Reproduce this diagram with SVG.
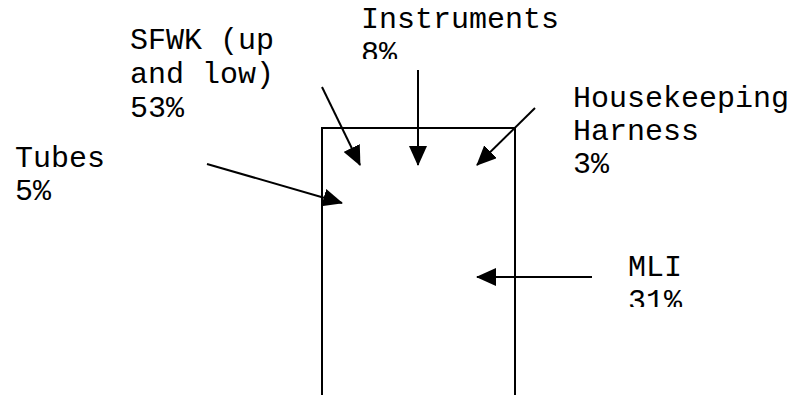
<svg xmlns="http://www.w3.org/2000/svg" width="804" height="395" viewBox="0 0 804 395">
  <style>
    .lbl { font-family: "Liberation Mono", "Courier New", monospace; font-size: 30px; fill: #000; }
    .ln { stroke: #000; stroke-width: 2; fill: none; }
    .arr { stroke: #000; stroke-width: 2; fill: none; marker-end: url(#ah); }
  </style>
  <defs>
    <marker id="ah" markerUnits="userSpaceOnUse" markerWidth="20" markerHeight="18" refX="19" refY="9" orient="auto">
      <path d="M0,0 L20,9 L0,18 Z" fill="#000"/>
    </marker>
    <clipPath id="clipInstr"><rect x="340" y="0" width="260" height="59"/></clipPath>
    <clipPath id="clipMli"><rect x="600" y="240" width="204" height="67"/></clipPath>
  </defs>
  <g id="body">
    <polyline class="ln" points="322,395 322,128 515,128 515,395"/>
  </g>
  <g id="node-sfwk">
    <text class="lbl" x="130" y="49">SFWK (up</text>
    <text class="lbl" x="130" y="83">and low)</text>
    <text class="lbl" x="130" y="117">53%</text>
  </g>
  <g id="node-instruments" clip-path="url(#clipInstr)">
    <text class="lbl" x="361" y="28">Instruments</text>
    <text class="lbl" x="361" y="62">8%</text>
  </g>
  <g id="node-housekeeping">
    <text class="lbl" x="573" y="107">Housekeeping</text>
    <text class="lbl" x="573" y="140">Harness</text>
    <text class="lbl" x="573" y="173">3%</text>
  </g>
  <g id="node-tubes">
    <text class="lbl" x="15" y="167">Tubes</text>
    <text class="lbl" x="15" y="200">5%</text>
  </g>
  <g id="node-mli" clip-path="url(#clipMli)">
    <text class="lbl" x="628" y="276">MLI</text>
    <text class="lbl" x="628" y="310">31%</text>
  </g>
  <g id="connectors">
    <line class="arr" x1="322" y1="87" x2="360" y2="165"/>
    <line class="arr" x1="418" y1="70" x2="418" y2="165"/>
    <line class="arr" x1="535" y1="108" x2="477" y2="165"/>
    <line class="arr" x1="207" y1="164" x2="342" y2="203"/>
    <line class="arr" x1="592" y1="277" x2="477" y2="277"/>
  </g>
</svg>
